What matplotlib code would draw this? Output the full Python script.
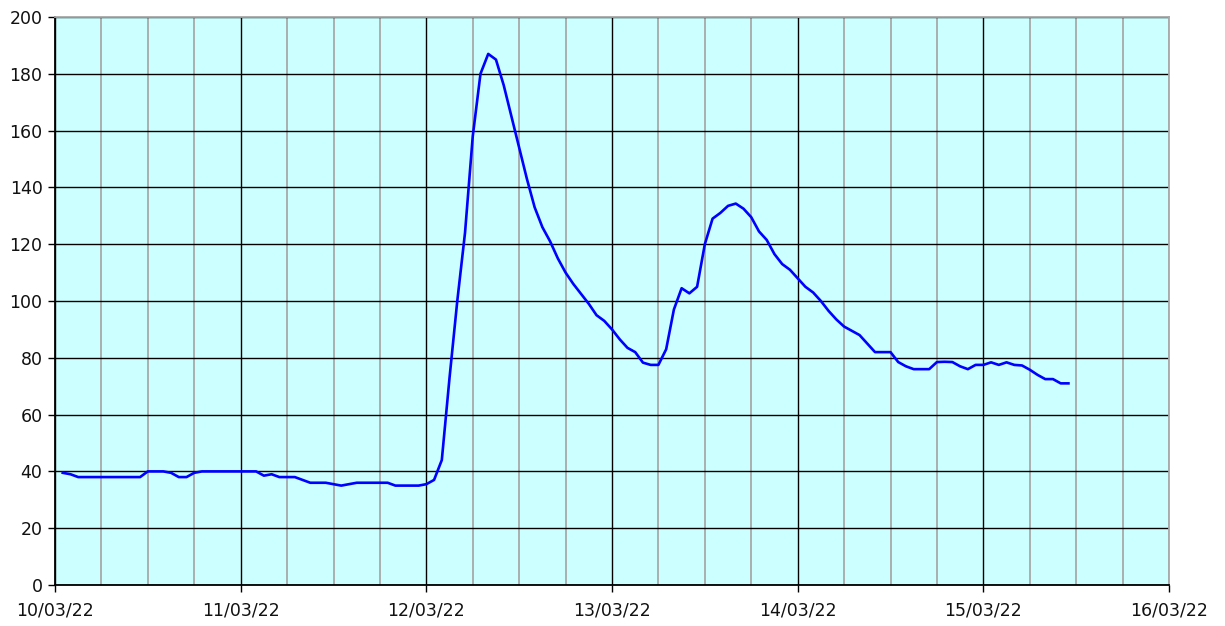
import numpy as np
import pandas as pd
import matplotlib
matplotlib.use('Agg')
import matplotlib.pyplot as plt
import matplotlib.dates as mdates

# hourly readings, starting 10/03/22 01:00
start = '2022-03-10 01:00'
values = [
    39.5, 39, 38, 38, 38, 38, 38, 38, 38, 38, 38, 40,            # h1-h12
    40, 40, 39.5, 38, 38, 39.5, 40, 40, 40, 40, 40, 40,         # h13-h24
    40, 40, 38.5, 39, 38, 38, 38, 37, 36, 36, 36, 35.5,         # h25-h36
    35, 35.5, 36, 36, 36, 36, 36, 35, 35, 35, 35, 35.5,         # h37-h48
    37, 44, 73, 100, 124, 158, 180, 187, 185, 176, 165, 154,    # h49-h60
    143, 133, 126, 121, 115, 110, 106, 102.5, 99, 95, 93, 90,   # h61-h72
    86.5, 83.5, 82, 78.3, 77.5, 77.5, 83, 97, 104.5, 102.7, 105, 120,  # h73-h84
    129, 131, 133.5, 134.3, 132.5, 129.5, 124.5, 121.5, 116.5, 113, 111, 108,  # h85-h96
    105, 103, 100, 96.5, 93.5, 91, 89.5, 88, 85, 82, 82, 82,    # h97-h108
    78.5, 77, 76, 76, 76, 78.5, 78.6, 78.5, 77, 76, 77.5, 77.5, # h109-h120
    78.4, 77.5, 78.4, 77.5, 77.3, 75.8, 74, 72.5, 72.5, 71, 71  # h121-h131
]
times = pd.date_range(start, periods=len(values), freq='h')

x_start = pd.Timestamp('2022-03-10')
x_end = pd.Timestamp('2022-03-16')

fig = plt.figure(figsize=(12.25, 6.26), dpi=100)
ax = fig.add_axes([55 / 1225, 41 / 626, 1114 / 1225, 568 / 626])
ax.set_facecolor('#CCFFFF')

ax.plot(times, values, color='#0000FF', linewidth=1.9, zorder=3)

ax.set_xlim(x_start, x_end)
ax.set_ylim(0, 200)
ax.set_yticks(np.arange(0, 201, 20))

ax.xaxis.set_major_locator(mdates.DayLocator())
ax.xaxis.set_major_formatter(mdates.DateFormatter('%d/%m/%y'))
ax.xaxis.set_minor_locator(mdates.HourLocator(byhour=[6, 12, 18]))

ax.grid(which='minor', axis='x', color='#A8A8A8', linewidth=1.3, zorder=1)
ax.grid(which='major', axis='x', color='black', linewidth=1.0, zorder=2)
ax.grid(which='major', axis='y', color='black', linewidth=1.0, zorder=2)

ax.tick_params(which='major', direction='out', length=5, width=1, color='black',
               labelsize=12.5, labelcolor='#111111', pad=7)
ax.tick_params(which='minor', length=0)
ax.tick_params(axis='y', pad=4)

for side in ['left', 'bottom']:
    ax.spines[side].set_color('black')
    ax.spines[side].set_linewidth(1.3)
for side in ['top', 'right']:
    ax.spines[side].set_color('#A8A8A8')
    ax.spines[side].set_linewidth(1.3)

fig.savefig('out.png', dpi=100)
